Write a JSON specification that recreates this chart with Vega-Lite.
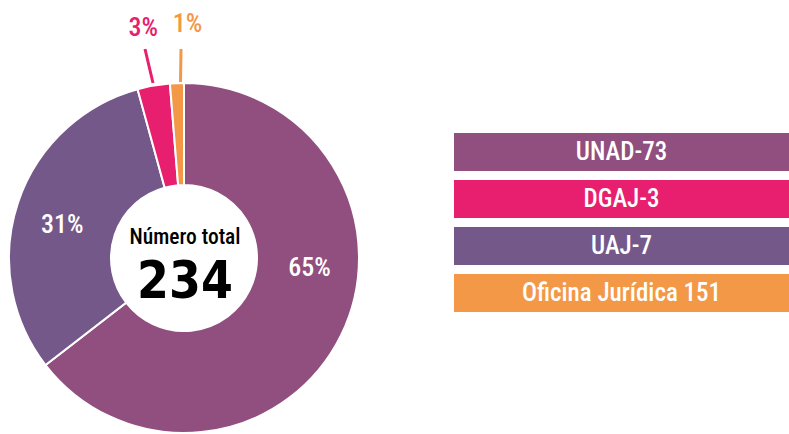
{
  "$schema": "https://vega.github.io/schema/vega-lite/v6.json",
  "padding": 0,
  "background": "white",
  "config": {"view": {"stroke": null}},
  "datasets": {
    "sectores": [
      {"entidad": "Oficina Jurídica", "n": 151, "pct": "65%"},
      {"entidad": "UNAD", "n": 73, "pct": "31%"},
      {"entidad": "UAJ", "n": 7, "pct": "3%"},
      {"entidad": "DGAJ", "n": 3, "pct": "1%"}
    ],
    "leyenda": [
      {"etiqueta": "UNAD-73", "entidad": "UNAD"},
      {"etiqueta": "DGAJ-3", "entidad": "DGAJ"},
      {"etiqueta": "UAJ-7", "entidad": "UAJ"},
      {"etiqueta": "Oficina Jurídica 151", "entidad": "Oficina Jurídica"}
    ]
  },
  "resolve": {"scale": {"color": "independent"}},
  "spacing": 54,
  "hconcat": [
    {
      "width": 400,
      "height": 434,
      "data": {"name": "sectores"},
      "layer": [
        {
          "mark": {"type": "arc", "outerRadius": 175, "innerRadius": 73, "stroke": "white", "strokeWidth": 2},
          "encoding": {
            "theta": {"field": "n", "type": "quantitative", "stack": true},
            "order": {"field": "n", "sort": "descending"},
            "color": {"field": "entidad", "type": "nominal", "legend": null,
              "scale": {"domain": ["Oficina Jurídica", "UNAD", "UAJ", "DGAJ"], "range": ["#904F7E", "#74588A", "#E81E6E", "#F39847"]}},
            "x": {"datum": 184, "type": "quantitative", "axis": null, "scale": {"domain": [0, 400], "nice": false, "zero": false}},
            "y": {"datum": 258, "type": "quantitative", "axis": null, "scale": {"domain": [0, 434], "reverse": true, "nice": false, "zero": false}}
          }
        },
        {
          "mark": {"type": "text", "radius": 126, "color": "white", "fontSize": 26, "fontWeight": 500, "font": "Noto Sans Condensed Medium, Noto Sans Condensed, Roboto Condensed, DejaVu Sans Condensed, sans-serif",
            "clip": true, "thetaOffset": {"expr": "datum.n > 100 ? -0.377 : (datum.n > 50 ? -0.06 : 0)"}},
          "encoding": {
            "theta": {"field": "n", "type": "quantitative", "stack": true},
            "order": {"field": "n", "sort": "descending"},
            "text": {"field": "pct", "type": "nominal", "condition": {"test": "datum.n < 10", "value": ""}},
            "x": {"datum": 184, "type": "quantitative", "axis": null},
            "y": {"datum": 258, "type": "quantitative", "axis": null}
          }
        },
        {
          "mark": {"type": "text", "radius": 234, "fontSize": 26, "fontWeight": 500, "font": "Noto Sans Condensed Medium, Noto Sans Condensed, Roboto Condensed, DejaVu Sans Condensed, sans-serif",
            "clip": true, "thetaOffset": {"expr": "datum.n < 5 ? 0.055 : 0"}},
          "encoding": {
            "theta": {"field": "n", "type": "quantitative", "stack": true},
            "order": {"field": "n", "sort": "descending"},
            "color": {"field": "entidad", "type": "nominal", "legend": null},
            "text": {"field": "pct", "type": "nominal", "condition": {"test": "datum.n >= 10", "value": ""}},
            "x": {"datum": 184, "type": "quantitative", "axis": null},
            "y": {"datum": 258, "type": "quantitative", "axis": null}
          }
        },
        {
          "data": {"values": [{}]},
          "mark": {"type": "rule", "color": "#E81E6E", "strokeWidth": 3},
          "encoding": {
            "x": {"datum": 145, "type": "quantitative", "axis": null},
            "y": {"datum": 49, "type": "quantitative", "axis": null},
            "x2": {"datum": 153},
            "y2": {"datum": 83}
          }
        },
        {
          "data": {"values": [{}]},
          "mark": {"type": "rule", "color": "#F39847", "strokeWidth": 3},
          "encoding": {
            "x": {"datum": 181, "type": "quantitative", "axis": null},
            "y": {"datum": 49, "type": "quantitative", "axis": null},
            "x2": {"datum": 180.5},
            "y2": {"datum": 82}
          }
        },
        {
          "data": {"values": [{}]},
          "mark": {"type": "text", "color": "black", "fontSize": 21.5, "fontWeight": 500, "baseline": "alphabetic", "font": "Noto Sans Condensed Medium, Noto Sans Condensed, Roboto Condensed, DejaVu Sans Condensed, sans-serif"},
          "encoding": {
            "text": {"datum": "Número total"},
            "x": {"datum": 185, "type": "quantitative", "axis": null},
            "y": {"datum": 244, "type": "quantitative", "axis": null}
          }
        },
        {
          "transform": [{"aggregate": [{"op": "sum", "field": "n", "as": "total"}]}],
          "mark": {"type": "text", "color": "black", "fontSize": 51, "fontWeight": 900, "baseline": "alphabetic", "font": "Noto Sans Condensed Black, Noto Sans Condensed ExtraBold, DejaVu Sans Condensed, sans-serif"},
          "encoding": {
            "text": {"field": "total", "type": "quantitative"},
            "x": {"datum": 185, "type": "quantitative", "axis": null},
            "y": {"datum": 298, "type": "quantitative", "axis": null}
          }
        }
      ]
    },
    {
      "width": 335,
      "height": 434,
      "data": {"name": "leyenda"},
      "encoding": {
        "y": {"field": "etiqueta", "type": "nominal", "sort": null, "axis": null,
          "scale": {"range": [133, 312], "paddingInner": 0.19, "paddingOuter": 0}}
      },
      "layer": [
        {
          "mark": {"type": "bar"},
          "encoding": {
            "color": {"field": "entidad", "type": "nominal", "legend": null,
              "scale": {"domain": ["UNAD", "DGAJ", "UAJ", "Oficina Jurídica"], "range": ["#904F7E", "#E81E6E", "#74588A", "#F39847"]}}
          }
        },
        {
          "mark": {"type": "text", "color": "white", "fontSize": 25, "fontWeight": 500, "font": "Noto Sans Condensed Medium, Noto Sans Condensed, Roboto Condensed, DejaVu Sans Condensed, sans-serif"},
          "encoding": {
            "text": {"field": "etiqueta", "type": "nominal"}
          }
        }
      ]
    }
  ]
}
